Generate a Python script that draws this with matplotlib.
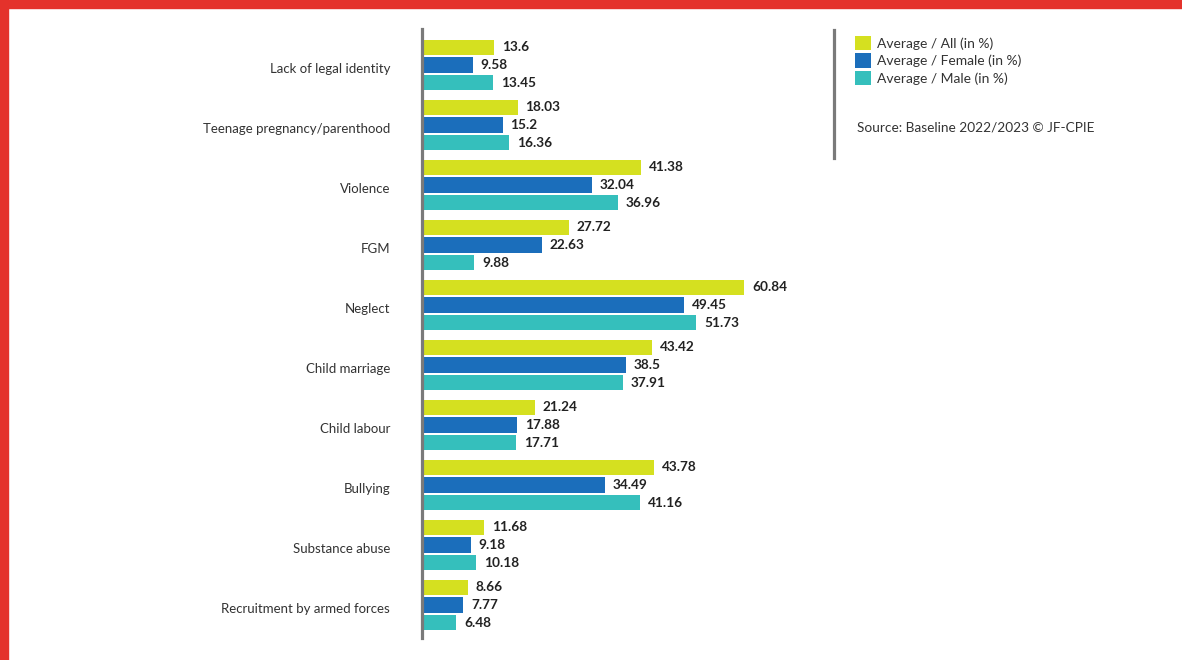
import matplotlib
matplotlib.use("Agg")
import matplotlib.pyplot as plt
from matplotlib.patches import Rectangle, Patch
from matplotlib.transforms import ScaledTranslation
import numpy as np

categories = [
    "Lack of legal identity",
    "Teenage pregnancy/parenthood",
    "Violence",
    "FGM",
    "Neglect",
    "Child marriage",
    "Child labour",
    "Bullying",
    "Substance abuse",
    "Recruitment by armed forces",
]
avg_all = [13.6, 18.03, 41.38, 27.72, 60.84, 43.42, 21.24, 43.78, 11.68, 8.66]
avg_female = [9.58, 15.2, 32.04, 22.63, 49.45, 38.5, 17.88, 34.49, 9.18, 7.77]
avg_male = [13.45, 16.36, 36.96, 9.88, 51.73, 37.91, 17.71, 41.16, 10.18, 6.48]
series_names = ["Average / All (in %)", "Average / Female (in %)", "Average / Male (in %)"]
colors = ["#d5e020", "#1b6ebb", "#35bfbc"]
source = "Source: Baseline 2022/2023 © JF-CPIE"

W, H, DPI = 1182, 660, 100
fig = plt.figure(figsize=(W / DPI, H / DPI), dpi=DPI)
fig.patch.set_facecolor("white")

FONT = ["Lato", "DejaVu Sans"]
TXT = "#333333"

# axes box in pixel units
ax_left, ax_right = 422, 952
ax_top, ax_bot = 29, 638
ax = fig.add_axes([ax_left / W, 1 - ax_bot / H, (ax_right - ax_left) / W, (ax_bot - ax_top) / H])

y = np.arange(len(categories))
offset = 0.292
height = 0.262
series = [avg_all, avg_female, avg_male]
for k, (vals, col) in enumerate(zip(series, colors)):
    pos = y + (k - 1) * offset
    ax.barh(pos, vals, height=height, color=col, edgecolor="none", zorder=2)
    for p, v in zip(pos, vals):
        ax.annotate(f"{v:g}", xy=(v, p), xytext=(8, 0), textcoords="offset pixels",
                    ha="left", va="center", fontsize=9.8, fontweight="bold",
                    color="#222222", family=FONT)

ax.set_xlim(0, 100)
ax.set_ylim(9.55, -0.6)
ax.set_yticks(y)
ax.set_yticklabels(categories, fontsize=9.5, color=TXT, family=FONT)
ax.tick_params(axis="y", length=0, pad=23)
# nudge category names slightly below the group centre
shift = ScaledTranslation(0, -3 / DPI, fig.dpi_scale_trans)
for lbl in ax.get_yticklabels():
    lbl.set_transform(lbl.get_transform() + shift)
ax.set_xticks([])
for s in ["top", "right", "bottom"]:
    ax.spines[s].set_visible(False)
ax.spines["left"].set_color("#7a7a7a")
ax.spines["left"].set_linewidth(2.3)
ax.spines["left"].set_zorder(3)
ax.patch.set_alpha(0)

# legend block with its side rule
handles = [Patch(facecolor=c, edgecolor="none") for c in colors]
fig.legend(handles, series_names, loc="upper left",
           bbox_to_anchor=(852 / W, 1 - 33 / H), frameon=False,
           handlelength=1.2, handleheight=1.25, handletextpad=0.4,
           labelspacing=0.2, borderaxespad=0, borderpad=0.2,
           prop={"family": FONT, "size": 10}, labelcolor=TXT)
fig.add_artist(plt.Line2D([834 / W, 834 / W], [1 - 30 / H, 1 - 158 / H],
                          color="#7a7a7a", lw=2.3, transform=fig.transFigure))
fig.text(857 / W, 1 - 128 / H, source, ha="left", va="center",
         fontsize=9.8, color=TXT, family=FONT)

# red frame on top and left edges
red = "#e4322b"
fig.add_artist(Rectangle((0, 1 - 8 / H), 1, 8 / H, transform=fig.transFigure,
                         color=red, zorder=10))
fig.add_artist(Rectangle((0, 0), 8 / W, 1, transform=fig.transFigure,
                         color=red, zorder=10))

fig.savefig("out.png", dpi=DPI)
